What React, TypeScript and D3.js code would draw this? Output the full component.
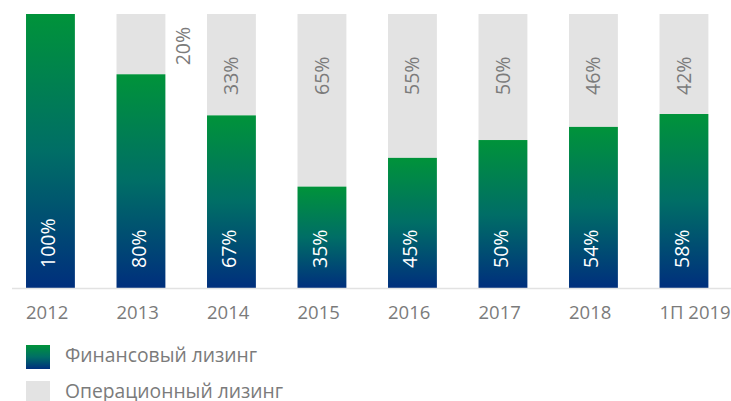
import React, { useRef, useEffect } from "react";
import * as d3 from "d3";

const categories = ["2012", "2013", "2014", "2015", "2016", "2017", "2018", "1П 2019"];
// share of financial leasing as printed on the bars
const financeLabels = [100, 80, 67, 35, 45, 50, 54, 58];
const operatingLabels = [0, 20, 33, 65, 55, 50, 46, 42];
// bar heights as drawn in the picture (%)
const financeHeights = [100, 78, 63, 37, 47.5, 54, 58.8, 63.5];
const legendItems = ["Финансовый лизинг", "Операционный лизинг"];

const W = 731;
const H = 401;
const FONT = "'Open Sans', sans-serif";

const App: React.FC = () => {
    const svgRef = useRef<SVGSVGElement | null>(null);

    useEffect(() => {
        const svg = d3.select(svgRef.current);
        svg.selectAll("*").remove();

        const baseY = 288;
        const topY = 14;

        const x = d3
            .scaleBand<string>()
            .domain(categories)
            .range([5.2, 729.2])
            .paddingInner(0.46)
            .paddingOuter(0.23);

        const y = d3.scaleLinear().domain([0, 100]).range([baseY, topY]);

        const defs = svg.append("defs");
        const grad = defs
            .append("linearGradient")
            .attr("id", "finGrad")
            .attr("x1", 0)
            .attr("y1", 0)
            .attr("x2", 0)
            .attr("y2", 1);
        grad.append("stop").attr("offset", "0%").attr("stop-color", "#00933a");
        grad.append("stop").attr("offset", "50%").attr("stop-color", "#006e66");
        grad.append("stop").attr("offset", "100%").attr("stop-color", "#002f7d");

        const rows = categories.map((c, i) => ({
            cat: c,
            h: financeHeights[i],
            fin: financeLabels[i],
            op: operatingLabels[i],
        }));

        // operating (grey) background
        svg.append("g")
            .selectAll("rect")
            .data(rows.filter((d) => d.h < 100))
            .join("rect")
            .attr("x", (d) => x(d.cat)!)
            .attr("y", y(100))
            .attr("width", x.bandwidth())
            .attr("height", (d) => y(d.h) - y(100))
            .attr("fill", "#e3e3e3");

        // financial (gradient)
        svg.append("g")
            .selectAll("rect")
            .data(rows)
            .join("rect")
            .attr("x", (d) => x(d.cat)!)
            .attr("y", (d) => y(d.h))
            .attr("width", x.bandwidth())
            .attr("height", (d) => baseY - y(d.h))
            .attr("fill", "url(#finGrad)");

        // axis line
        svg.append("line")
            .attr("x1", 12)
            .attr("x2", W)
            .attr("y1", baseY + 0.5)
            .attr("y2", baseY + 0.5)
            .attr("stroke", "#e2e2e2")
            .attr("stroke-width", 1.5);

        // financial labels
        svg.append("g")
            .selectAll("text")
            .data(rows)
            .join("text")
            .attr("transform", (d) => `translate(${x(d.cat)! + x.bandwidth() / 2 - 2},${baseY - 20}) rotate(-90)`)
            .attr("dy", "0.35em")
            .attr("font-family", FONT)
            .attr("font-size", 19.5)
            .attr("fill", "#ffffff")
            .text((d) => `${d.fin}%`);

        // operating labels
        svg.append("g")
            .selectAll("text")
            .data(rows.filter((d) => d.op > 0))
            .join("text")
            .attr("transform", (d) => {
                const inside = y(d.h) - y(100) > 80;
                const cx = inside
                    ? x(d.cat)! + x.bandwidth() / 2
                    : x(d.cat)! + x.bandwidth() + 18;
                const by = Math.min(y(d.h) - 9, 95);
                return `translate(${cx},${by}) rotate(-90)`;
            })
            .attr("dy", "0.35em")
            .attr("font-family", FONT)
            .attr("font-size", 19.5)
            .attr("fill", "#7b7b7b")
            .text((d) => `${d.op}%`);

        // category labels
        svg.append("g")
            .selectAll("text")
            .data(categories)
            .join("text")
            .attr("x", (d) => x(d)!)
            .attr("y", 319)
            .attr("font-family", FONT)
            .attr("font-size", 18.5)
            .attr("fill", "#7b7b7b")
            .text((d) => d);

        // legend
        const legend = svg
            .append("g")
            .selectAll("g")
            .data(legendItems)
            .join("g")
            .attr("transform", (_, i) => `translate(26,${345 + i * 36})`);
        legend
            .append("rect")
            .attr("width", 24)
            .attr("height", 24)
            .attr("fill", (_, i) => (i === 0 ? "url(#finGrad)" : "#e3e3e3"));
        legend
            .append("text")
            .attr("x", 39)
            .attr("y", 16.5)
            .attr("font-family", FONT)
            .attr("font-size", 19.3)
            .attr("fill", "#7b7b7b")
            .text((d) => d);

        return () => {
            svg.selectAll("*").remove();
        };
    }, []);

    return (
        <svg
            ref={svgRef}
            width={W}
            height={H}
            style={{ position: "absolute", left: 0, top: 0, display: "block" }}
        ></svg>
    );
};

export default App;
